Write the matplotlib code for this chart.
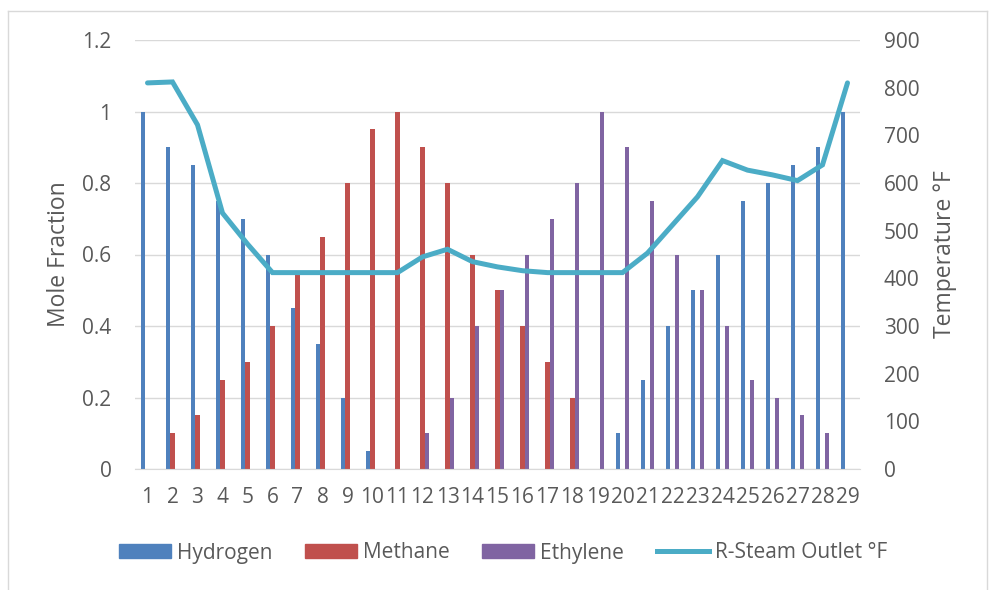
import numpy as np
import matplotlib
matplotlib.use("Agg")
import matplotlib.pyplot as plt
from matplotlib.lines import Line2D
from matplotlib.patches import Patch

plt.rcParams['font.family'] = ['Open Sans', 'DejaVu Sans']

cats = [str(i) for i in range(1, 30)]
hydrogen = [1.0, 0.9, 0.85, 0.75, 0.7, 0.6, 0.45, 0.35, 0.2, 0.05, 0, 0, 0, 0, 0,
            0, 0, 0, 0, 0.1, 0.25, 0.4, 0.5, 0.6, 0.75, 0.8, 0.85, 0.9, 1.0]
methane = [0, 0.1, 0.15, 0.25, 0.3, 0.4, 0.55, 0.65, 0.8, 0.95, 1.0, 0.9, 0.8, 0.6, 0.5,
           0.4, 0.3, 0.2, 0, 0, 0, 0, 0, 0, 0, 0, 0, 0, 0]
ethylene = [0, 0, 0, 0, 0, 0, 0, 0, 0, 0, 0, 0.1, 0.2, 0.4, 0.5,
            0.6, 0.7, 0.8, 1.0, 0.9, 0.75, 0.6, 0.5, 0.4, 0.25, 0.2, 0.15, 0.1, 0]
temp = [810, 812, 722, 537, 472, 412, 412, 412, 412, 412, 412, 445, 461, 435, 424,
        416, 412, 412, 412, 412, 453, 512, 571, 647, 627, 617, 605, 638, 810]

c_h, c_m, c_e, c_t = '#4F81BD', '#C0504D', '#8064A2', '#4BACC6'
grey = '#595959'

fig = plt.figure(figsize=(9.92, 5.9), dpi=100)
ax = fig.add_axes([135/992, 1 - 469/590, 725/992, 429/590])
ax2 = ax.twinx()

x = np.arange(len(cats))
w = 0.172
ax.bar(x - w, hydrogen, w, color=c_h, zorder=2)
ax.bar(x, methane, w, color=c_m, zorder=2)
ax.bar(x + w, ethylene, w, color=c_e, zorder=2)
ax2.plot(x, temp, color=c_t, lw=3.6, solid_capstyle='round', solid_joinstyle='miter')

ax.set_xlim(-0.5, len(cats) - 0.5)
ax.set_ylim(0, 1.2)
ax.set_yticks(np.arange(0, 1.21, 0.2))
ax.set_yticklabels(['0', '0.2', '0.4', '0.6', '0.8', '1', '1.2'])
ax2.set_ylim(0, 900)
ax2.set_yticks(np.arange(0, 901, 100))
ax.set_xticks(x)
ax.set_xticklabels(cats)

ax.grid(axis='y', color='#D9D9D9', lw=1)
ax.set_axisbelow(True)
for a in (ax, ax2):
    for s in a.spines.values():
        s.set_visible(False)
ax.spines['bottom'].set_visible(True)
ax.spines['bottom'].set_color('#D9D9D9')
ax.tick_params(axis='both', length=0, labelsize=15, colors=grey)
ax.tick_params(axis='y', pad=17)
ax.tick_params(axis='x', pad=13)
ax2.tick_params(axis='y', length=0, labelsize=15, colors=grey, pad=17)

ax.set_ylabel('Mole Fraction', fontsize=16.5, color=grey, labelpad=8)
ax2.set_ylabel('Temperature °F', fontsize=16.5, color=grey, labelpad=10)

handles = [Patch(color=c_h, label='Hydrogen'),
           Patch(color=c_m, label='Methane'),
           Patch(color=c_e, label='Ethylene'),
           Line2D([], [], color=c_t, lw=3.6, label='R-Steam Outlet °F')]
leg = fig.legend(handles=handles, loc='center', bbox_to_anchor=(0.507, 1 - 553/590),
                 ncol=4, frameon=False, fontsize=15, handlelength=2.5,
                 handleheight=0.65, columnspacing=1.55, handletextpad=0.3)
for t in leg.get_texts():
    t.set_color(grey)

# outer chart border
fig.add_artist(plt.Line2D([7.5/992, 7.5/992], [0, 1 - 11/590], transform=fig.transFigure, color='#D9D9D9', lw=1))
fig.add_artist(plt.Line2D([7.5/992, 987/992], [1 - 11/590, 1 - 11/590], transform=fig.transFigure, color='#D9D9D9', lw=1))
fig.add_artist(plt.Line2D([987/992, 987/992], [0, 1 - 11/590], transform=fig.transFigure, color='#D9D9D9', lw=1))

fig.savefig('out.png', dpi=100)
